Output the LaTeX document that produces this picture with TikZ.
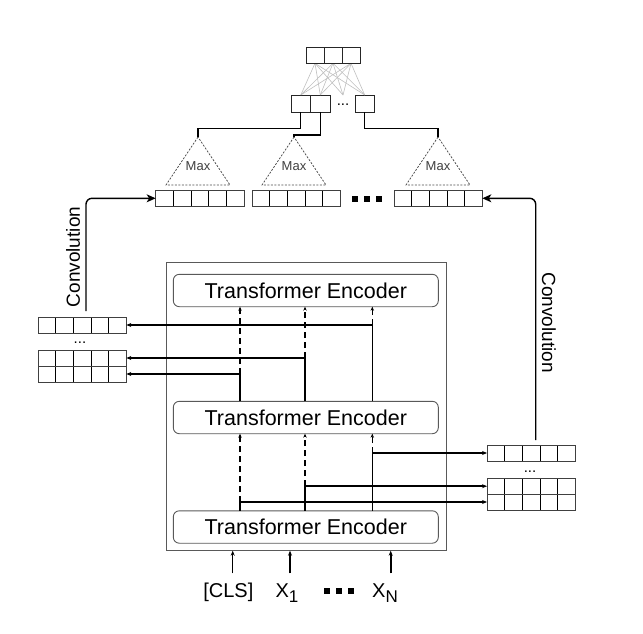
\documentclass[tikz,border=0pt]{standalone}
\usepackage{fontspec}
\setmainfont{Liberation Sans}
\usetikzlibrary{arrows.meta,calc}
\begin{document}
\begin{tikzpicture}[x=1pt,y=-1pt,
  every node/.style={inner sep=0pt, outer sep=0pt},
  vec/.style={draw=black!75, line width=0.9pt, minimum width=88.3pt, minimum height=16pt,
    path picture={\foreach \k in {1,2,3,4}{\draw[black,line width=0.9pt]
      ($(path picture bounding box.south west)!\k/5!(path picture bounding box.south east)$) --
      ($(path picture bounding box.north west)!\k/5!(path picture bounding box.north east)$);}}},
  cellT/.style={draw=black!85, line width=0.9pt, minimum width=18pt, minimum height=16pt},
  cellM/.style={draw=black!85, line width=0.9pt, minimum width=19.5pt, minimum height=17pt},
  enc/.style={draw=black!65, line width=0.9pt, rounded corners=6pt, minimum width=265pt,
    minimum height=32.4pt, font=\fontsize{21.5}{24}\selectfont},
  conn/.style={line width=1.2pt, black},
  thk/.style={line width=1.7pt, black},
  dashline/.style={line width=1.2pt, black, dash pattern=on 6pt off 4pt},
  tip/.style={-{Stealth[length=5pt,width=4pt]}},
  tinytip/.style={-{Stealth[length=4pt,width=3.4pt]}},
  conv/.style={line width=1.4pt, black, rounded corners=6pt, -{Stealth[length=9pt,width=8pt,inset=2.5pt]}},
  tri/.style={draw=black!70, line width=0.8pt, dash pattern=on 2pt off 1.5pt},
  maxlbl/.style={font=\fontsize{13}{15}\selectfont, text=black!75},
  dotsn/.style={font=\fontsize{15}{15}\selectfont, anchor=base},
  sq/.style={fill=black, minimum size=6pt},
  inlbl/.style={font=\fontsize{20}{24}\selectfont, anchor=base},
  convlbl/.style={font=\fontsize{19}{22}\selectfont}
]
\useasboundingbox (0,0) rectangle (643,634);

% ---------- top fully connected part ----------
\node[cellT] (t1) at (315,55.3) {};
\node[cellT] (t2) at (333,55.3) {};
\node[cellT] (t3) at (351,55.3) {};
\node[cellM] (m1) at (300.8,103.5) {};
\node[cellM] (m2) at (320.3,103.5) {};
\node[cellM] (m3) at (364.7,103.5) {};
\node[dotsn] (mdots) at (343,106) {...};
\coordinate (md) at (343,95);
\foreach \s in {t1,t2,t3}{
  \foreach \t in {m1,m2,md,m3}{
    \draw[black!25, line width=0.6pt] (\s.south) -- (\t.north);
  }
}
\node[cellT] at (t1) {};
\node[cellT] at (t2) {};
\node[cellT] at (t3) {};

% ---------- max pooling triangles ----------
\coordinate (a1) at (198,137);
\coordinate (a2) at (294,137);
\coordinate (a3) at (438,137);
\foreach \a in {a1,a2,a3}{
  \draw[tri] (\a) -- ++(-32,48) -- ++(64,0) -- cycle;
}
\node[maxlbl] (max1) at (198,166) {Max};
\node[maxlbl] (max2) at (294,166) {Max};
\node[maxlbl] (max3) at (438,166) {Max};

\draw[conn] (m1.south) -- ++(0,16.3) -| (a1);
\draw[conn] (m2.south) -- ++(0,23) -| (a2);
\draw[conn] (m3.south) -- ++(0,16.3) -| (a3);

% ---------- pooled vectors ----------
\node[vec] (v1) at (199.8,198.3) {};
\node[vec] (v2) at (296.2,198.3) {};
\node[vec] (v3) at (438.2,198.3) {};
\node[sq] (q1) at (355.3,199.3) {};
\node[sq] (q2) at (367.3,199.3) {};
\node[sq] (q3) at (379.3,199.3) {};

% ---------- encoder box ----------
\node[draw=black!65, line width=0.9pt, minimum width=280pt, minimum height=288pt] (box) at (306,406.7) {};
\node[enc] (e3) at (305.8,290.5) {Transformer Encoder};
\node[enc] (e2) at (305.8,417.5) {Transformer Encoder};
\node[enc] (e1) at (305.8,527) {Transformer Encoder};

\coordinate (cA) at (240,0);
\coordinate (cB) at (305,0);
\coordinate (cC) at (372.3,0);

% ---------- left vectors ----------
\node[vec] (lv1) at (82.2,325) {};
\node[dotsn] (ldots) at (80,343) {...};
\node[vec] (lv2) at (82.2,358) {};
\node[vec] (lv3) at (82.2,374) {};

% ---------- right vectors ----------
\node[vec] (rv1) at (531.2,453) {};
\node[dotsn] (rdots) at (530,472) {...};
\node[vec] (rv2) at (531.2,486.2) {};
\node[vec] (rv3) at (531.2,502) {};

% ---------- upper section connectors ----------
\draw[conn,tip] (cC |- e2.north) |- (lv1.east);
\draw[conn,tip] (cB |- e2.north) |- (lv2.east);
\draw[conn,tip] (cA |- e2.north) |- (lv3.east);
\draw[dashline,tinytip] (cC |- lv1.east) -- (cC |- e3.south);
\draw[dashline,tinytip] (cB |- lv2.east) -- (cB |- e3.south);
\draw[dashline,tinytip] (cA |- lv3.east) -- (cA |- e3.south);

% ---------- lower section connectors ----------
\draw[conn,tip] (cC |- e1.north) |- (rv1.west);
\draw[thk,tip] (cB |- e1.north) |- (rv2.west);
\draw[thk,tip] (cA |- e1.north) |- (rv3.west);
\draw[dashline,tinytip] (cC |- rv1.west) -- (cC |- e2.south);
\draw[dashline,tinytip] (cB |- rv2.west) -- (cB |- e2.south);
\draw[dashline,tinytip] (cA |- rv3.west) -- (cA |- e2.south);

% ---------- convolution arrows ----------
\coordinate (lc) at (86,311);
\draw[conv] (lc) |- (v1.west);
\node[convlbl, rotate=90] (lconv) at (73,257) {Convolution};
\coordinate (rc) at (535.7,440);
\draw[conv] (rc) |- (v3.east);
\node[convlbl, rotate=-90] (rconv) at (549,322.5) {Convolution};

% ---------- inputs ----------
\node[inlbl] (cls) at (228.3,597) {[CLS]};
\node[inlbl] (x1) at (287,597) {X\raisebox{-5pt}{\fontsize{17}{17}\selectfont 1}};
\node[sq] (p1) at (326.7,590.5) {};
\node[sq] (p2) at (338.7,590.5) {};
\node[sq] (p3) at (351,590.5) {};
\node[inlbl] (xn) at (385,597) {X\raisebox{-5pt}{\fontsize{17}{17}\selectfont N}};

\coordinate (iA) at (232.7,573.3);
\coordinate (iB) at (290,573.3);
\coordinate (iC) at (390.7,573.3);
\draw[conn,tip] (iA) -- (iA |- box.south);
\draw[thk,tip] (iB) -- (iB |- box.south);
\draw[thk,tip] (iC) -- (iC |- box.south);
\end{tikzpicture}
\end{document}
